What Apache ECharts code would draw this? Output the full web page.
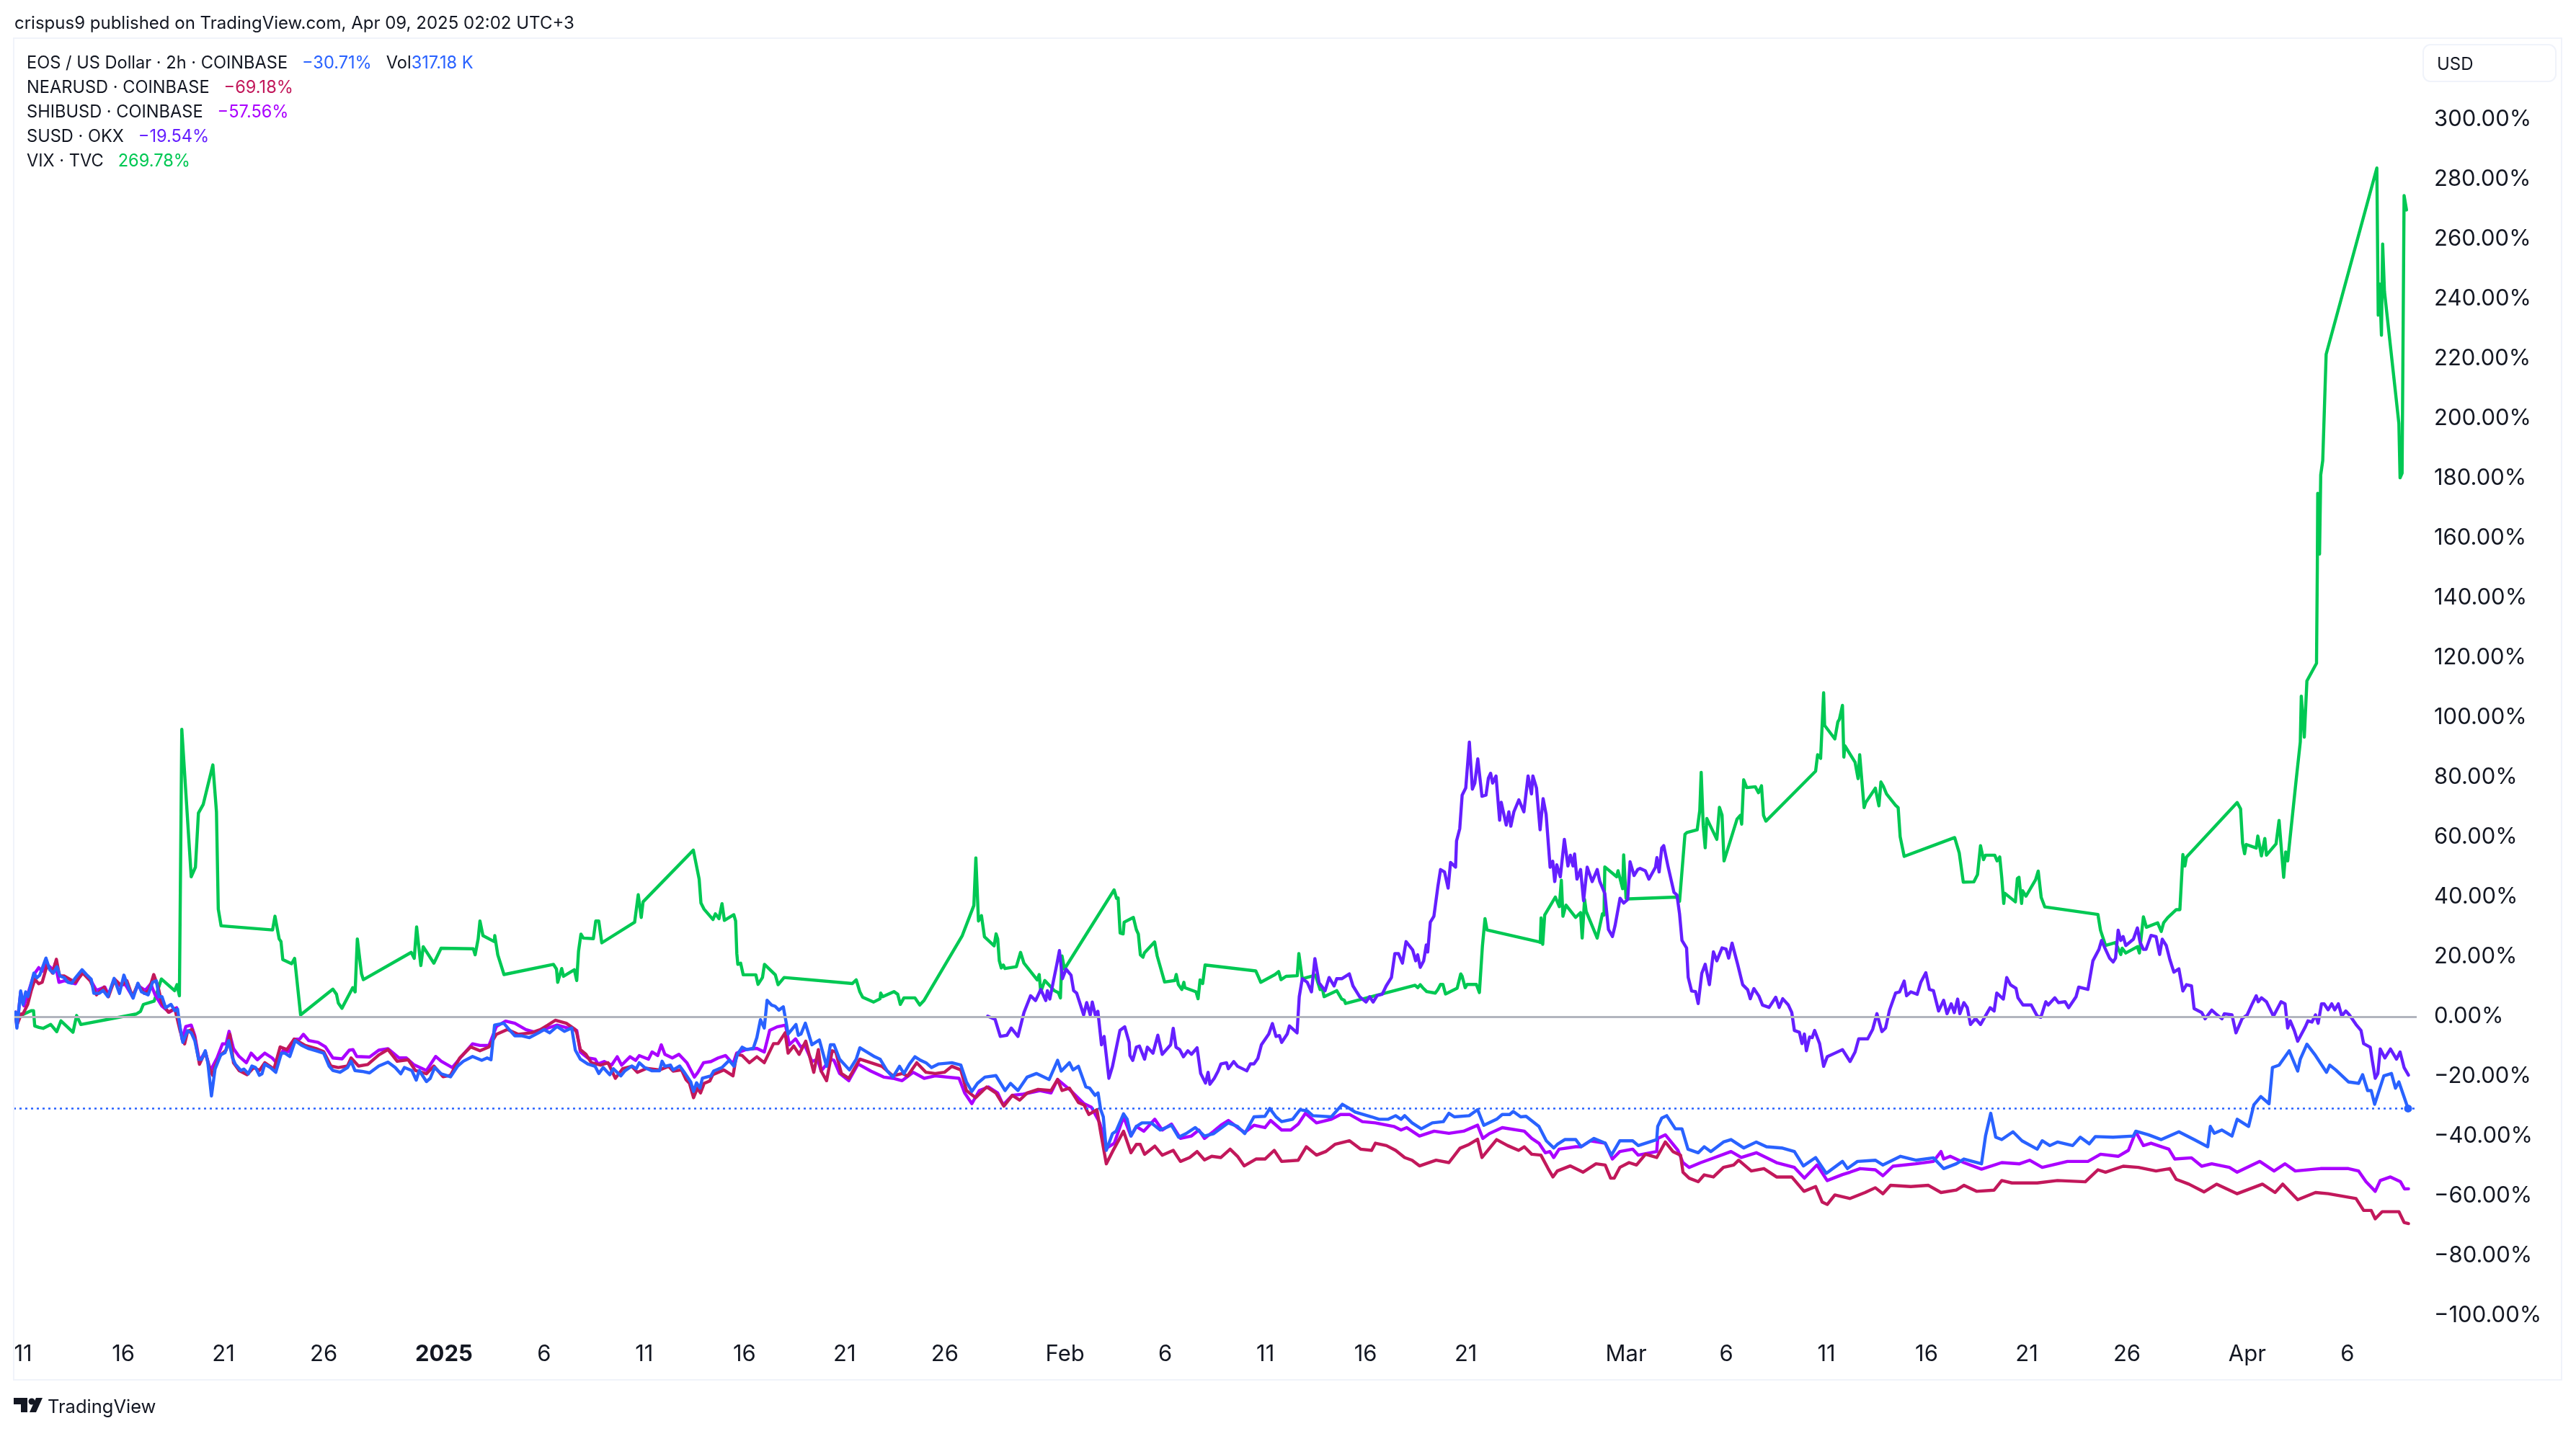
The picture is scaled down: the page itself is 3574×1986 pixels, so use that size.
<!DOCTYPE html>
<html>
<head>
<meta charset="utf-8">
<title>EOS / US Dollar comparison</title>
<script src="https://cdn.jsdelivr.net/npm/echarts@6/dist/echarts.min.js"></script>
<style>html,body{margin:0;padding:0;background:#fff}#chart{width:3574px;height:1986px}</style>
</head>
<body>
<div id="chart"></div>
<script>
// Percent change since the start of the window; x is days after 11 Dec 2024.
const vix = [[-0.11,0.4],[0.4,2],[0.52,2],[0.58,-3.1],[0.79,-3.6],[1,-3.9],[1.38,-2.6],[1.68,-5],[1.89,-1.4],[2.49,-5.2],[2.67,0.4],[2.88,-2.6],[5.65,0.9],[5.86,1.8],[6,4.1],[6.54,5.2],[6.9,12.6],[7.56,8.7],[7.68,10.7],[7.8,7],[7.92,96.1],[8.39,46.8],[8.6,50],[8.75,68.1],[8.99,71],[9.47,84.2],[9.65,68.5],[9.74,36],[9.88,30.4],[12.45,29],[12.57,33.6],[12.78,26],[12.87,25.1],[12.96,19.1],[13.4,17.7],[13.55,19.5],[13.85,0.6],[15.46,9.2],[15.64,7.5],[15.73,4.6],[15.91,2.8],[16.45,9.7],[16.57,8.3],[16.68,26],[16.89,14.3],[16.98,12.4],[19.37,21.5],[19.52,19.5],[19.64,30],[19.85,17.1],[19.97,23.4],[20.5,17.9],[20.86,22.9],[22.47,22.7],[22.56,20.7],[22.71,26],[22.8,32],[22.95,27.1],[23.52,25.1],[23.54,27.1],[23.69,20.7],[24,14.1],[26.47,17.5],[26.62,15.9],[26.68,11.5],[26.88,16.1],[26.97,13.5],[27.51,15.7],[27.63,12.1],[27.72,21.9],[27.84,27.6],[27.96,26.3],[28.46,26.1],[28.58,32],[28.73,32],[28.88,24.7],[30.52,31.6],[30.7,40.8],[30.85,33.2],[30.94,38.4],[33.45,55.7],[33.74,46],[33.83,38],[33.98,36],[34.43,32.5],[34.55,34.4],[34.73,32.8],[34.88,37.8],[35,32.2],[35.47,34.1],[35.56,32],[35.62,21.1],[35.67,17.5],[35.81,17.9],[35.94,14],[36.57,14],[36.68,10.8],[36.9,13.1],[37,17.5],[37.54,14],[37.68,10.7],[37.98,13.1],[41.39,11.1],[41.58,12.3],[41.76,8.3],[41.9,6.5],[42.45,4.9],[42.77,6],[42.8,7.9],[42.9,6.7],[43.46,8.4],[43.65,7.5],[43.78,4.1],[43.96,6.3],[44.51,6.3],[44.75,3.9],[44.97,5.5],[46.87,27.1],[47.45,37.2],[47.55,53.1],[47.68,32],[47.83,33.8],[47.98,26.7],[48.46,23.7],[48.56,27.7],[48.64,26],[48.72,18.7],[48.82,16.3],[48.92,17.3],[49,16.1],[49.57,16.7],[49.78,21.5],[49.95,17.9],[50.61,12.3],[50.71,14.1],[50.79,8.3],[50.99,12.1],[51.47,8.7],[51.67,8],[51.77,6.3],[51.85,20.3],[51.97,15.9],[54.45,42.4],[54.57,39.6],[54.65,39.7],[54.75,28],[54.9,27.7],[54.95,31.6],[55.41,33.2],[55.56,29.1],[55.66,27.6],[55.76,20.7],[55.89,19.9],[55.96,21.3],[56.47,25],[56.6,20.3],[56.97,11.6],[57.48,12.1],[57.55,14.1],[57.66,10.7],[57.83,9.1],[57.93,11.5],[57.98,9.7],[58.54,8.3],[58.64,6],[58.74,12.3],[58.87,11.1],[58.99,17.3],[61.52,15.3],[61.64,13.5],[61.77,11.5],[62.48,14.1],[62.66,15.1],[62.78,12.4],[63.03,13.5],[63.59,13.7],[63.67,21.1],[63.84,12.7],[64.5,13.9],[64.73,9.1],[64.85,9.2],[64.93,6.7],[65.56,8.7],[65.81,5.9],[65.94,5.5],[66,4.4],[69.47,10.5],[69.6,9.7],[69.73,10.7],[69.85,9.7],[70.05,8.4],[70.48,7.9],[70.61,9.1],[70.74,10.8],[70.86,10.8],[70.99,7.6],[71.57,9.5],[71.75,14.3],[71.82,13.5],[71.97,9.7],[72.07,10.8],[72.53,10.8],[72.68,8.1],[72.83,23.5],[72.96,32.8],[73.06,29],[75.61,25.1],[75.72,24.8],[75.76,33],[75.84,24.2],[75.94,34],[76.47,40],[76.67,36.8],[76.77,45.6],[76.85,33.6],[77,37.3],[77.48,33.2],[77.73,34.8],[77.81,26.3],[77.93,39.2],[78.01,35.2],[78.56,26.3],[78.82,34.4],[78.9,34],[78.94,50.1],[79.53,46.8],[79.6,48.8],[79.83,42.8],[79.88,54.1],[80,39.6],[80.13,39.4],[82.54,40],[82.67,38.6],[82.94,61],[83.04,61.6],[83.55,62.5],[83.68,69],[83.75,81.7],[83.85,64],[83.95,56.5],[84.03,66.3],[84.53,59.3],[84.66,70],[84.79,67.4],[84.89,52.1],[85.54,66.1],[85.7,67.3],[85.77,64.4],[85.87,79.2],[86.02,76.6],[86.45,76.9],[86.61,74.9],[86.76,77.2],[86.86,67.3],[86.98,65.4],[89.46,82.1],[89.56,87.6],[89.71,86.4],[89.86,108.3],[89.91,97.4],[90.42,92.9],[90.57,98.6],[90.65,99.5],[90.8,104.1],[90.87,86.8],[90.92,90.6],[91.43,85.1],[91.58,79.6],[91.66,87.6],[91.88,69.9],[91.96,71.6],[92.44,76.4],[92.62,70.5],[92.72,78.5],[92.84,77.1],[93,74.5],[93.45,70.7],[93.58,69.9],[93.68,60.2],[93.88,53.6],[96.4,59.9],[96.63,54.7],[96.83,45],[97.36,45.1],[97.54,47.5],[97.69,57.2],[97.84,52.5],[97.94,54],[98.4,54],[98.52,52.1],[98.65,53.4],[98.75,46.6],[98.85,37.9],[98.9,41.3],[99.43,38.4],[99.53,46.2],[99.61,46.6],[99.74,37.9],[99.79,42.1],[99.96,40.3],[100.44,45.8],[100.57,48.7],[100.72,39.9],[100.9,36.7],[103.55,34.2],[103.68,28.9],[103.93,23.8],[104.43,24.8],[104.69,20.8],[104.76,22.9],[104.94,21.3],[105.52,23.4],[105.62,21.3],[105.82,33.4],[105.97,29.9],[106.53,31.4],[106.71,28.5],[106.83,31.4],[107.03,33.1],[107.46,35.8],[107.64,35.8],[107.79,54.2],[107.89,50.4],[107.97,53.4],[110.5,71.6],[110.67,69.5],[110.77,58],[110.87,54.5],[110.95,57.6],[111.45,56.4],[111.53,60.4],[111.71,53.8],[111.88,59.6],[111.96,54],[112.44,57.8],[112.59,65.6],[112.82,46.6],[112.92,55.1],[113.02,52.1],[113.45,79.6],[113.65,91.9],[113.7,107.2],[113.85,93.5],[113.98,112.3],[114.46,118.2],[114.5,150.4],[114.52,175],[114.61,154.7],[114.67,181.2],[114.77,186],[114.94,221.5],[117.47,283.8],[117.54,234.6],[117.61,245],[117.7,227.9],[117.76,258.4],[117.85,242.6],[118.57,198.4],[118.63,180.2],[118.73,181.8],[118.83,274.6],[118.95,269.78]];

const susd = [[48.14,0.2],[48.51,-0.9],[48.77,-6.6],[49.1,-6.2],[49.32,-3.8],[49.65,-6.6],[49.95,1.4],[50.28,7],[50.53,5.4],[50.79,9.1],[51.04,5.4],[51.12,8.7],[51.24,5.9],[51.42,11.9],[51.59,17.5],[51.72,22.1],[51.87,12.7],[52.05,15.9],[52.3,13.9],[52.43,8.7],[52.58,7.9],[52.93,0.6],[53.08,4.7],[53.26,0.6],[53.36,4.9],[53.51,0.6],[53.64,1.8],[53.82,-9.4],[53.95,-6.6],[54.19,-20.6],[54.37,-16.6],[54.74,-4.6],[54.98,-3.4],[55.2,-8.6],[55.24,-13],[55.38,-14.6],[55.56,-10.2],[55.71,-9.8],[55.97,-14.2],[56.11,-10.2],[56.39,-12.2],[56.63,-6.2],[56.85,-12.6],[57.27,-9.4],[57.4,-3.9],[57.54,-10.2],[57.72,-11],[57.91,-13.4],[58.13,-11.4],[58.31,-12.6],[58.59,-10.4],[58.77,-19],[59.01,-22.2],[59.14,-18.6],[59.23,-22.6],[59.45,-20.6],[59.64,-18.2],[59.78,-15.8],[60.06,-15.4],[60.15,-17.4],[60.42,-15],[60.61,-16.6],[61.07,-18.1],[61.25,-15.8],[61.43,-15.8],[61.62,-14],[61.8,-9.4],[62.17,-5.8],[62.35,-2.3],[62.53,-6.6],[62.7,-6.3],[62.81,-8.6],[63.09,-5.8],[63.2,-3.1],[63.58,-5.4],[63.69,6.7],[63.84,12.7],[64.09,11.5],[64.3,8.3],[64.47,19.4],[64.68,11.3],[64.98,8.7],[65.18,13.1],[65.43,10.3],[65.56,12.7],[65.81,12.7],[66.19,14.3],[66.37,10.3],[66.7,6.7],[67.02,4.9],[67.2,6.7],[67.38,4.9],[67.58,7.1],[67.83,7.5],[68.03,10.3],[68.29,13.1],[68.46,21.1],[68.64,21.1],[68.84,17.9],[69.02,25.1],[69.35,22.3],[69.5,18.7],[69.6,20.7],[69.73,16.5],[69.9,18.7],[70.03,24],[70.1,21.6],[70.23,31.6],[70.41,33.6],[70.61,43.6],[70.74,49.2],[70.94,48.4],[71.12,43],[71.24,51.6],[71.49,50],[71.54,58.8],[71.7,62.9],[71.82,74.1],[72,76.5],[72.18,91.8],[72.33,76.1],[72.45,78.1],[72.6,86.2],[72.81,73.7],[73.01,74.1],[73.13,79.8],[73.24,81.4],[73.34,78.1],[73.51,80.5],[73.69,65.7],[73.77,71.7],[74.02,64.1],[74.15,68.5],[74.25,63.7],[74.4,68.5],[74.65,72.5],[74.9,68.5],[75.11,80.5],[75.28,74.5],[75.35,80.5],[75.53,76.5],[75.71,62.5],[75.86,72.9],[76.01,67.7],[76.21,50],[76.34,52],[76.44,45.2],[76.54,50.8],[76.72,46.8],[76.92,59.3],[77.1,50.4],[77.22,54],[77.35,50.4],[77.43,54.4],[77.55,46],[77.73,49.2],[77.88,38.8],[78.06,50],[78.31,45.2],[78.56,49.2],[78.69,45.2],[78.94,41.2],[79.12,29.2],[79.32,26.8],[79.45,30.4],[79.7,39.6],[79.88,38],[80.08,39.2],[80.2,51.8],[80.4,47.2],[80.58,49.2],[80.7,49.6],[80.96,48.8],[81.14,46],[81.47,50],[81.54,53.2],[81.65,48.4],[81.78,56.4],[81.88,57.2],[82.09,50.4],[82.39,41.6],[82.54,40.7],[82.67,34.4],[82.79,25.5],[83.02,23],[83.1,13.2],[83.27,8.6],[83.47,8.4],[83.6,4.4],[83.78,14.5],[83.95,17.5],[84.16,10.7],[84.36,21.7],[84.53,18.7],[84.79,23],[84.99,22.6],[85.12,19.6],[85.29,24.6],[85.57,17.5],[85.82,10.7],[86.07,9],[86.2,6],[86.38,9.4],[86.63,6.9],[86.81,3.9],[87.14,3.1],[87.47,6.5],[87.64,3.1],[87.82,6],[88.1,3.9],[88.27,1.4],[88.4,-4.6],[88.65,-5.2],[88.78,-9],[88.9,-5.8],[89,-11.4],[89.16,-6.8],[89.29,-7],[89.41,-4.6],[89.66,-9],[89.86,-16.6],[90.04,-13.4],[90.42,-12.2],[90.8,-11],[91.18,-15],[91.43,-11.8],[91.61,-7.4],[92.06,-7.4],[92.31,-4.2],[92.52,1],[92.77,-5],[92.95,-3.8],[93.15,2.2],[93.45,7.9],[93.65,8.3],[93.88,11.9],[94,7],[94.21,8.3],[94.53,7.5],[94.71,11.5],[94.96,14.7],[95.14,9.1],[95.34,8.7],[95.6,1.9],[95.85,5.5],[96.02,1],[96.23,4.3],[96.38,1.4],[96.55,5.9],[96.66,1],[96.86,4.7],[97.03,3],[97.19,-2.6],[97.44,-0.6],[97.69,-2.6],[98.17,3],[98.37,1.9],[98.5,7.9],[98.83,5.9],[99,13.1],[99.18,10.7],[99.46,9.5],[99.56,6.3],[99.81,3.9],[100.22,3.9],[100.52,0.2],[100.7,-0.2],[100.95,5],[101.07,3.9],[101.4,6.3],[101.58,4.7],[101.91,5],[102.09,3],[102.46,6.7],[102.59,9.9],[103.05,9.1],[103.3,18.7],[103.6,22.5],[103.73,25.5],[103.93,22.5],[104.13,19.6],[104.31,18.3],[104.43,19.6],[104.56,28.9],[104.69,25.5],[104.81,26.8],[104.94,23.8],[105.32,25.9],[105.52,29.7],[105.65,25],[105.82,22.5],[105.95,22.5],[106.2,27.2],[106.45,26.8],[106.63,20.8],[106.76,25.9],[106.96,23.8],[107.14,19.1],[107.34,14.9],[107.59,16],[107.79,8.6],[107.97,10.7],[108.22,10.3],[108.35,2.7],[108.73,1.4],[108.9,-0.7],[109.23,2.2],[109.43,1],[109.74,-0.7],[109.86,1],[110.24,0.6],[110.44,-5.4],[110.62,-2.6],[110.75,-0.6],[111,0.6],[111.25,4.3],[111.45,7],[111.55,5],[111.71,6.3],[111.96,5],[112.31,0.2],[112.51,2.7],[112.69,5],[112.89,4.3],[113.02,-3.8],[113.15,-1.4],[113.35,-4.6],[113.52,-8.2],[113.9,-3.4],[114.03,-1.4],[114.23,-1.8],[114.41,0.6],[114.54,-2.2],[114.71,4.3],[114.84,4.3],[115.04,2.3],[115.22,4.3],[115.37,2.3],[115.55,4.3],[115.72,0.2],[115.92,1.9],[116.1,0.6],[116.43,-2.6],[116.68,-4.6],[116.81,-9],[117.14,-10.2],[117.24,-14.6],[117.39,-20.6],[117.52,-19],[117.64,-10.8],[117.87,-13.8],[118.15,-10.8],[118.45,-14.2],[118.63,-11.8],[118.83,-17],[119.05,-19.54]];

const shib = [[-0.38,1.5],[-0.31,-3.3],[-0.12,8.3],[0.04,3.6],[0.32,9.4],[0.54,14.1],[0.78,16.4],[0.96,15.2],[1.14,17.8],[1.51,15.7],[1.6,17.8],[1.79,11.5],[2.06,12],[2.61,11],[2.98,15.2],[3.35,12.5],[3.66,8.8],[4.08,9.9],[4.26,7.3],[4.54,12.5],[4.81,10.4],[5.09,10.9],[5.46,6.7],[5.73,10.4],[6.1,8.8],[6.37,11],[6.59,7.3],[6.92,3.6],[7.29,1.5],[7.66,3],[7.93,-7.5],[8.12,-3.3],[8.39,-2.8],[8.57,-6.4],[8.8,-14.9],[9.09,-11.7],[9.35,-18],[9.68,-13.8],[9.95,-9.1],[10.13,-9.1],[10.28,-4.9],[10.5,-10.7],[10.78,-13.3],[11.14,-15.4],[11.38,-12.2],[11.69,-14.4],[12.06,-12.2],[12.43,-13.8],[12.65,-15.4],[12.98,-11.2],[13.25,-11.7],[13.53,-7.5],[13.8,-7.5],[13.99,-5.9],[14.26,-8],[14.72,-8.6],[15.09,-10.1],[15.46,-13.8],[15.92,-14.1],[16.28,-11.2],[16.46,-11],[16.65,-13.3],[17.29,-13.5],[17.75,-11.2],[18.21,-10.7],[18.76,-13.8],[19.13,-13.8],[19.49,-16],[20.13,-18],[20.59,-13.3],[20.87,-14.9],[21.42,-17],[21.88,-13.3],[22.43,-9.1],[22.8,-9.6],[23.25,-9.6],[23.62,-3.3],[24.08,-1.5],[24.54,-2.2],[25.09,-4.3],[25.64,-5.4],[26.19,-3.8],[26.65,-2.8],[27.47,-4.3],[27.63,-4.6],[27.81,-11.8],[28.18,-13.8],[28.55,-14.2],[28.69,-15.8],[29,-15],[29.37,-16.2],[29.65,-13.4],[29.87,-16.2],[30.29,-13.4],[30.57,-14.6],[30.75,-13],[31.21,-14.2],[31.39,-11.8],[31.67,-13],[31.85,-9.4],[32.03,-12.6],[32.4,-13.8],[32.73,-12.6],[33.13,-15.4],[33.5,-20.2],[33.68,-18.6],[33.96,-15.4],[34.33,-15],[34.69,-13.8],[35.06,-13],[35.43,-15.8],[35.61,-12.2],[36.07,-11],[36.62,-10.6],[36.99,-11.8],[37.26,-4.6],[37.63,-3.4],[38.05,-2.8],[38.24,-9.4],[38.55,-7.4],[38.82,-10.2],[39,-9.4],[39.37,-15],[39.65,-14.2],[39.83,-18.2],[40.29,-14.2],[40.47,-14.6],[40.75,-19],[41.21,-21.4],[41.67,-15.8],[42.31,-18.2],[42.95,-20.2],[43.41,-20.6],[43.87,-21.4],[44.42,-18.6],[44.97,-20.6],[45.52,-19.8],[46.71,-20.6],[46.99,-25.5],[47.35,-29.1],[47.72,-24.7],[48.18,-23.5],[48.64,-25.5],[48.91,-29.5],[49.37,-26.3],[49.92,-25.9],[50.75,-24.7],[51.3,-25.5],[51.63,-21],[52.22,-24.3],[52.95,-29.1],[53.32,-30.3],[53.73,-35.5],[54.09,-43.9],[54.46,-42.3],[54.92,-33.5],[55.29,-39.9],[55.56,-36.7],[55.93,-38.3],[56.48,-34.3],[56.85,-37.9],[57.31,-35.9],[57.76,-40.7],[58.31,-39.9],[58.68,-37.9],[58.96,-40.7],[59.42,-38.3],[59.78,-36.3],[60.15,-34.7],[60.7,-37.5],[60.97,-38.7],[61.43,-36.3],[61.98,-37.1],[62.26,-34.7],[62.81,-37.9],[63.27,-37.9],[63.64,-35.9],[64,-32.3],[64.55,-35.5],[65.29,-34.3],[65.75,-32.7],[66.2,-32.7],[66.84,-35.1],[67.49,-35.5],[68.41,-36.7],[68.77,-37.9],[69.05,-37.1],[69.69,-39.9],[70.42,-38.3],[71.16,-39],[71.89,-38.3],[72.59,-36.3],[72.85,-40.7],[73.18,-39.1],[73.82,-37.1],[74.92,-38.3],[75.29,-40.7],[75.65,-42.3],[75.97,-45.5],[76.2,-45.1],[76.39,-47.1],[76.66,-44.3],[77.49,-43.5],[77.76,-43.5],[78.22,-41.5],[78.96,-42.3],[79.32,-47.6],[79.69,-45.1],[80.33,-44.3],[80.61,-46.3],[81.53,-45.1],[81.58,-40.7],[81.96,-39.5],[82.59,-44.7],[82.84,-48.8],[83.15,-50.4],[83.73,-48.8],[84.23,-47.6],[85.24,-45.1],[85.75,-47.1],[86.5,-45.5],[87.51,-48.8],[88.4,-50.4],[88.9,-54],[89.53,-49.6],[90.04,-54.8],[90.8,-52.8],[91.18,-52],[91.68,-50.8],[92.44,-51.2],[92.82,-53.2],[93.32,-50],[94.46,-49.2],[95.34,-48.4],[95.72,-45.1],[95.85,-47.6],[96.18,-46.7],[96.86,-48.8],[97.74,-51],[98.75,-48.8],[99.64,-49.2],[100.14,-48],[100.77,-50.4],[102.03,-48.4],[103.05,-48.4],[103.68,-46],[104.56,-46.7],[105.07,-44.7],[105.44,-38.5],[105.82,-43.1],[106.2,-42.3],[107.09,-44.3],[107.39,-47.6],[108.22,-47.2],[108.73,-50],[109.23,-49.2],[110.11,-50.4],[110.5,-52],[111.63,-48.4],[112.34,-51.6],[112.89,-49.2],[113.4,-51.6],[114.66,-50.8],[116.05,-50.8],[116.56,-51.6],[116.93,-55.2],[117.39,-58.4],[117.64,-54.8],[118.15,-53.6],[118.65,-55.2],[118.85,-57.6],[119.05,-57.56]];

const near = [[-0.38,1.5],[-0.31,-2.8],[-0.09,0.9],[-0.01,0.9],[0.23,4.1],[0.41,8.8],[0.59,12.5],[0.78,11],[0.95,11.5],[1.2,17.3],[1.47,14.6],[1.66,19.2],[1.82,13.6],[2.06,13.6],[2.34,12.5],[2.61,11.5],[2.98,14.6],[3.35,12],[3.66,7.3],[4.04,9.9],[4.26,6.7],[4.57,12.5],[4.9,10.4],[5.18,12],[5.46,6.7],[5.73,11],[6.04,7.8],[6.28,8.8],[6.52,14.1],[6.74,9.9],[6.92,4.6],[7.25,1.5],[7.57,2.7],[7.84,-4.9],[8.06,-9.1],[8.21,-4.9],[8.43,-4.3],[8.57,-7],[8.8,-15.9],[9.09,-11.7],[9.31,-17.5],[9.46,-19.6],[9.58,-16.5],[9.86,-12.8],[10.13,-11.2],[10.32,-5.9],[10.5,-15.4],[10.78,-18],[11.18,-19.4],[11.51,-17],[11.79,-18],[12.06,-15.4],[12.52,-17.5],[12.83,-10.1],[13.16,-11],[13.53,-7.5],[14.08,-9.6],[14.63,-10.7],[15,-11.7],[15.36,-16.5],[15.73,-17],[16.19,-16.5],[16.37,-13.8],[16.74,-16.5],[17.2,-16],[17.75,-12.8],[18.21,-11],[18.67,-14.9],[19.22,-14.4],[19.58,-18],[20.13,-19.1],[20.5,-16.5],[20.96,-20.1],[21.33,-19.6],[21.79,-13.8],[22.34,-10.1],[22.8,-11.4],[23.25,-10.1],[23.62,-5.9],[24.17,-4.3],[24.72,-5.9],[25.36,-5.4],[25.82,-4.3],[26.19,-2.8],[26.56,-1.2],[27.11,-2.2],[27.56,-4.3],[27.63,-5.4],[27.81,-11],[28.09,-12.6],[28.36,-15.4],[28.82,-16.2],[29.19,-15.4],[29.56,-20.6],[29.92,-17.4],[30.38,-16.6],[30.66,-18.6],[31.12,-17.3],[31.76,-17.8],[32.22,-16.6],[32.44,-18.2],[32.86,-17.8],[33.08,-21],[33.26,-22.3],[33.46,-27.1],[33.65,-23.9],[33.81,-25.5],[33.99,-22.3],[34.27,-21.5],[34.42,-19.4],[34.97,-17.8],[35.43,-19.8],[35.61,-12.6],[35.89,-13],[36.25,-15.4],[36.62,-13.4],[36.99,-15.4],[37.45,-9],[37.68,-9],[38.03,-5.4],[38.18,-12.2],[38.46,-9.8],[38.73,-12.6],[39.06,-8.2],[39.46,-18.6],[39.69,-11],[39.83,-18.2],[40.1,-21.4],[40.38,-11.4],[40.56,-11.8],[40.84,-19],[41.21,-20.6],[41.76,-14.2],[42.31,-15.4],[42.86,-16.6],[43.41,-19.8],[43.87,-19],[44.14,-19.8],[44.6,-15.4],[45.06,-18.6],[45.52,-19],[45.98,-18.6],[46.35,-16.6],[46.8,-17.8],[47.08,-24.7],[47.54,-27.1],[48.09,-23.5],[48.55,-25.5],[48.95,-29.9],[49.37,-26.3],[49.74,-27.9],[50.11,-25.5],[50.66,-24.3],[51.3,-24.7],[51.63,-21],[51.85,-24.7],[52.22,-23.9],[52.67,-28.7],[52.95,-29.5],[53.19,-32.7],[53.59,-31.1],[53.78,-38.7],[54.06,-49.2],[54.37,-45.1],[54.92,-38.3],[55.29,-45.5],[55.56,-42.7],[55.75,-42.7],[55.97,-46],[56.48,-43.3],[56.85,-46.3],[57.4,-44.7],[57.76,-48.4],[58.22,-47.1],[58.59,-45.1],[58.96,-47.9],[59.32,-46.7],[59.78,-47.1],[60.24,-44.3],[60.61,-46.7],[60.94,-49.9],[61.53,-47.6],[61.98,-47.6],[62.44,-44.7],[62.81,-48.4],[63.64,-48],[64.04,-43.5],[64.55,-46.3],[65.01,-45.1],[65.47,-42.7],[66.2,-41.5],[66.75,-44.3],[67.3,-44.7],[67.49,-42.3],[68.04,-43.1],[68.5,-44.7],[68.95,-47.1],[69.32,-48],[69.69,-49.9],[70.52,-48],[71.16,-48.8],[71.71,-44],[72.17,-42.7],[72.59,-41],[72.81,-47.1],[73.54,-41.1],[74.09,-43.1],[74.64,-44.7],[74.92,-43.5],[75.29,-46],[75.75,-46.3],[76.11,-50.8],[76.35,-53.6],[76.57,-51.6],[77.21,-49.9],[77.85,-52],[78.5,-49.2],[78.96,-49.6],[79.23,-54],[79.41,-54],[79.69,-50.4],[80.15,-48.8],[80.52,-49.6],[80.97,-46],[81.53,-47.1],[81.96,-41.9],[82.34,-45.1],[82.72,-46.3],[82.84,-52],[83.15,-54],[83.6,-55.2],[83.9,-52.9],[84.36,-53.6],[84.86,-50.4],[85.37,-49.6],[85.62,-48],[86.25,-51.6],[86.88,-50.8],[87.51,-53.6],[88.27,-53.6],[88.88,-58.4],[89.46,-56.8],[89.79,-62],[90.04,-62.8],[90.42,-59.6],[91.18,-60.8],[91.93,-58.8],[92.44,-57.2],[92.82,-59.2],[93.2,-56.4],[94.21,-56.8],[95.09,-56.4],[95.72,-58.8],[96.48,-58],[96.86,-56.4],[97.49,-58.4],[98.37,-58],[98.75,-54.8],[99.26,-55.6],[100.52,-55.6],[101.53,-54.8],[102.92,-55.2],[103.55,-51.2],[103.93,-52],[104.81,-50],[105.57,-50.4],[106.45,-51.6],[107.14,-50.8],[107.46,-54.4],[108.09,-56],[108.85,-58.6],[109.48,-56],[110.5,-59.2],[111.76,-56],[112.39,-58.8],[112.77,-56],[113.52,-61.2],[114.41,-58.8],[115.04,-59.2],[116.43,-60.8],[116.81,-64.8],[117.19,-64.8],[117.39,-67.6],[117.74,-65.2],[118.57,-65.2],[118.83,-68.8],[119.05,-69.18]];

const eos = [[-0.38,1.5],[-0.31,-3.8],[-0.12,8.6],[-0.01,4.1],[0.13,8.3],[0.24,6.7],[0.54,14.6],[0.68,13],[0.83,13.9],[1.14,19.6],[1.33,15.7],[1.51,14.6],[1.69,16.7],[1.84,13.6],[2.06,13],[2.24,11.5],[2.43,11.2],[2.61,13],[2.94,15.7],[3.16,14.1],[3.4,12.5],[3.53,7.8],[3.8,7.8],[3.99,8.8],[4.23,6.7],[4.54,12.8],[4.81,7.8],[5.03,13.9],[5.27,9.4],[5.49,6.2],[5.73,11.2],[5.91,8.3],[6.24,7.3],[6.46,11.5],[6.65,12],[6.78,6.7],[6.93,6.7],[7.11,3],[7.38,4.1],[7.57,2],[7.71,2.5],[7.84,-3.8],[7.97,-8.6],[8.21,-4.7],[8.39,-5.4],[8.57,-8],[8.76,-14.3],[8.9,-14.3],[9.09,-11.4],[9.22,-15.4],[9.4,-26.5],[9.58,-17.5],[9.86,-12.8],[10.08,-12],[10.26,-8],[10.45,-13.8],[10.59,-15.9],[10.87,-18],[11.02,-17.5],[11.24,-19.1],[11.42,-16.5],[11.6,-17],[11.79,-19.6],[11.92,-19.1],[12.06,-15.9],[12.34,-17],[12.61,-18.6],[12.89,-12.2],[13.07,-12.2],[13.31,-13.3],[13.58,-8],[13.9,-9.6],[14.26,-10.7],[14.63,-11.4],[15,-12.2],[15.27,-16.5],[15.46,-18],[15.82,-18.6],[16.19,-17],[16.37,-14.9],[16.56,-18],[16.92,-18.3],[17.29,-18.8],[17.75,-16.5],[18.21,-15.2],[18.57,-17],[18.85,-19.1],[19.03,-17],[19.4,-18],[19.62,-21.2],[19.77,-18],[20.13,-21.7],[20.32,-20.6],[20.54,-17],[20.87,-19.1],[21.33,-20.1],[21.69,-16.5],[21.97,-14.9],[22.43,-13.3],[22.89,-14.6],[23.16,-13.8],[23.35,-14.4],[23.53,-2.8],[23.99,-2.2],[24.26,-4.3],[24.54,-6.4],[24.9,-6.4],[25.27,-7],[25.73,-5.4],[26,-4.3],[26.28,-5.4],[26.65,-3.3],[27.02,-4.9],[27.38,-3.8],[27.56,-11.2],[27.81,-14.2],[28.18,-15.8],[28.55,-16.6],[28.73,-19],[28.95,-17],[29.28,-19.4],[29.46,-17.4],[29.83,-19.8],[30.02,-18.2],[30.38,-16.5],[30.6,-17.4],[30.75,-15.4],[31.02,-17],[31.39,-18.1],[31.76,-18.1],[31.89,-14.9],[32.03,-16.6],[32.31,-16.2],[32.44,-17.8],[32.77,-16.5],[33.04,-19],[33.32,-21.8],[33.46,-25],[33.61,-22.1],[33.78,-23.9],[33.9,-20.6],[34.33,-19.8],[34.46,-18.2],[34.88,-17],[35.24,-14.6],[35.48,-16.6],[35.65,-12.6],[35.89,-10.2],[36.11,-11],[36.44,-10.6],[36.62,-7],[36.8,-1],[36.99,-3.8],[37.13,5.5],[37.35,3.9],[37.53,3.5],[37.72,2.2],[37.94,3.3],[38.09,-2.2],[38.18,-5.8],[38.57,-2.6],[38.69,-6.2],[38.82,-5.8],[39.04,-2.2],[39.37,-9.4],[39.55,-8.6],[39.74,-7.8],[40.1,-16.6],[40.29,-9.4],[40.47,-9.4],[40.75,-14.2],[41.24,-17.8],[41.58,-14.2],[41.76,-10.4],[42.31,-12.6],[42.5,-13.4],[42.77,-14.2],[43.13,-18.2],[43.41,-20.2],[43.74,-16.6],[43.96,-19],[44.24,-15.8],[44.51,-13.4],[44.79,-14.6],[45.06,-15.4],[45.34,-17],[45.7,-15.8],[46.35,-15.4],[46.8,-16.2],[47.08,-21.8],[47.35,-25],[47.63,-22.3],[48,-20.2],[48.55,-19.7],[49.01,-24.7],[49.28,-22.3],[49.65,-24.7],[50.11,-20.2],[50.57,-19],[51.21,-21],[51.63,-14.6],[51.81,-18.2],[52.22,-15.4],[52.4,-17.8],[52.67,-16.6],[53.04,-23.5],[53.23,-23.9],[53.5,-26.3],[53.65,-25.5],[53.78,-31.1],[53.91,-33.5],[54.06,-44.7],[54.37,-39.1],[54.55,-38.3],[54.92,-32.5],[55.1,-34.3],[55.29,-39.9],[55.56,-36.7],[55.84,-35.5],[56.3,-35.5],[56.75,-37.9],[57.31,-36.3],[57.67,-40.3],[58.04,-39.1],[58.5,-37.1],[58.96,-39.9],[59.42,-39.1],[60.15,-35.5],[60.61,-36.7],[60.97,-39.1],[61.43,-33.5],[61.98,-33.3],[62.22,-30.7],[62.53,-33.5],[62.81,-35.1],[63.36,-34.3],[63.73,-31.1],[64.09,-31.5],[64.37,-33.1],[65.29,-33.5],[65.84,-29.3],[66.2,-30.7],[66.48,-31.9],[67.3,-33.5],[67.67,-34.3],[68.13,-34.3],[68.5,-33.1],[68.77,-34.3],[68.95,-33.1],[69.32,-35.5],[69.78,-37.5],[70.33,-35.5],[70.88,-35.1],[71.16,-32.3],[71.43,-33.5],[72.17,-33.1],[72.59,-31.1],[72.9,-36.3],[73.54,-34.3],[73.82,-32.7],[74.19,-32.7],[74.37,-31.7],[74.74,-33.5],[75.01,-33.3],[75.65,-36.7],[76.02,-41.5],[76.39,-43.9],[76.57,-42.7],[76.94,-41.1],[77.49,-41.1],[77.76,-43.5],[78.4,-40.7],[78.96,-42.3],[79.27,-46.3],[79.69,-41.5],[80.33,-41.5],[80.61,-43.1],[81.53,-41.1],[81.58,-36.7],[81.78,-33.9],[82.03,-33.1],[82.46,-37.5],[82.79,-37.5],[83.09,-44.3],[83.6,-45.5],[83.9,-43.5],[84.23,-45.1],[84.86,-41.9],[85.24,-41.1],[85.87,-43.9],[86.5,-41.9],[87.01,-43.5],[87.77,-43.9],[88.4,-45.1],[88.85,-49.9],[89.46,-47.1],[89.99,-52.4],[90.8,-48.4],[91.05,-50.8],[91.55,-48.4],[92.44,-48],[92.82,-49.6],[93.7,-46.7],[94.46,-48],[95.34,-47.2],[95.85,-50.8],[96.48,-49.2],[96.86,-47.6],[97.74,-49.2],[97.94,-39.9],[98.2,-32.3],[98.45,-40.3],[98.75,-41.1],[99.31,-38.5],[99.76,-41.5],[100.52,-44.3],[100.77,-41.5],[101.15,-43.1],[101.53,-41.9],[102.29,-43.1],[102.67,-40.3],[103.12,-42.5],[103.42,-40.1],[104.31,-40.3],[105.32,-39.9],[105.44,-38.3],[106.07,-39.5],[106.71,-41.1],[107.59,-38.5],[108.35,-41.1],[109.03,-43.5],[109.16,-36.7],[109.36,-39],[109.74,-37.9],[110.24,-39.9],[110.5,-34.3],[111.07,-36.7],[111.33,-29.5],[111.68,-26.7],[112.09,-29.1],[112.26,-17],[112.59,-16.2],[113.1,-11.4],[113.52,-18.2],[113.65,-14.2],[113.98,-9.2],[114.41,-13],[114.96,-18.6],[115.12,-16.2],[115.42,-17.8],[116.05,-21.8],[116.56,-22.3],[116.76,-19.4],[117.01,-24.7],[117.19,-24.7],[117.36,-29.3],[117.82,-19.8],[118.2,-19],[118.4,-23.9],[118.57,-21.8],[119.03,-30.71]];

// Time axis: tick positions in days and the labels printed under them.
const dayTicks = [0,5,10,15,21,26,31,36,41,46,52,57,62,67,72,80,85,90,95,100,105,111,116];
const dayLabels = ['11','16','21','26','2025','6','11','16','21','26','Feb','6','11','16','21','Mar','6','11','16','21','26','Apr','6'];
const axisDays = [-0.47, 119.46];

// Price scale, in percent.
const pctRange = [-100, 300];
const pctStep = 20;

// Header rows: symbol description and closing change.
const rowNames = ['EOS / US Dollar · 2h · COINBASE','NEARUSD · COINBASE','SHIBUSD · COINBASE','SUSD · OKX','VIX · TVC'];
const rowValues = ['−30.71%','−69.18%','−57.56%','−19.54%','269.78%'];
const rowColors = ['#2962FF','#C2185B','#AA00FF','#651FFF','#00C853'];
const volumeText = '317.18 K';
const lastEos = -30.71;

const ink = '#131722';
const paneEdge = '#F0F3FA';
const uiFont = 'Inter, "Noto Sans", sans-serif';

function lineSeries(name, data, color, extra) {
  return Object.assign({
    name, type: 'line', data, showSymbol: false, symbol: 'none', clip: true, silent: true,
    lineStyle: { color, width: 4.4, join: 'round', cap: 'round' }
  }, extra || {});
}

const headerRows = rowNames.map((name, i) => ({
  type: 'text', left: 37, top: 76 + i * 34, z: 20,
  style: {
    text: '{n|' + name + '}   {v|' + rowValues[i] + '}' + (i === 0 ? '   {n|Vol}{v|' + volumeText + '}' : ''),
    font: '23.6px ' + uiFont,
    rich: {
      n: { fill: ink, font: '23.6px ' + uiFont },
      v: { fill: rowColors[i], font: '23.6px ' + uiFont }
    }
  }
}));

const chart = echarts.init(document.getElementById('chart'), null, { renderer: 'canvas' });
chart.setOption({
  animation: false,
  backgroundColor: '#ffffff',
  grid: { left: 19, right: 221, top: 166, bottom: 160, containLabel: false },
  xAxis: {
    type: 'value', min: axisDays[0], max: axisDays[1],
    splitLine: { show: false }, axisLine: { show: false }, axisTick: { show: false },
    axisLabel: {
      customValues: dayTicks,
      margin: 38,
      color: ink,
      fontFamily: uiFont,
      fontSize: 31,
      formatter: v => {
        const t = dayLabels[dayTicks.indexOf(v)];
        return t === '2025' ? '{b|2025}' : t;
      },
      rich: { b: { fontWeight: 700, fontSize: 31, fontFamily: uiFont, color: ink } }
    }
  },
  yAxis: {
    type: 'value', position: 'right', min: pctRange[0], max: pctRange[1], interval: pctStep,
    splitLine: { show: false }, axisLine: { show: false }, axisTick: { show: false },
    axisLabel: {
      margin: 24, color: ink, fontFamily: uiFont, fontSize: 31, padding: [4, 0, 0, 0],
      formatter: v => (v < 0 ? '−' : '') + Math.abs(v).toFixed(2) + '%'
    }
  },
  series: [
    lineSeries('VIX', vix, rowColors[4], {
      markLine: {
        silent: true, symbol: 'none', animation: false, label: { show: false },
        lineStyle: { color: '#B2B5BE', width: 3, type: 'solid' },
        data: [{ yAxis: 0 }]
      }
    }),
    lineSeries('SUSD', susd, rowColors[3]),
    lineSeries('SHIB', shib, rowColors[2]),
    lineSeries('NEAR', near, rowColors[1]),
    lineSeries('EOS', eos, rowColors[0], {
      markLine: {
        silent: true, symbol: 'none', animation: false, label: { show: false },
        lineStyle: { color: rowColors[0], width: 2.5, type: [3, 5] },
        data: [{ yAxis: lastEos }]
      },
      markPoint: {
        silent: true, symbol: 'circle', symbolSize: 11, animation: false, label: { show: false },
        itemStyle: { color: rowColors[0] },
        data: [{ coord: eos[eos.length - 1] }]
      }
    })
  ],
  graphic: [
    { type: 'rect', z: 10, shape: { x: 0, y: 1830, width: 19, height: 80 }, style: { fill: '#fff' } },
    { type: 'rect', z: 11, shape: { x: 19, y: 53, width: 3535, height: 1862 },
      style: { fill: 'transparent', stroke: paneEdge, lineWidth: 2 } },
    { type: 'rect', z: 12, shape: { x: 3362, y: 62, width: 184, height: 51, r: 10 },
      style: { fill: '#fff', stroke: paneEdge, lineWidth: 2 } },
    { type: 'text', z: 13, left: 3381, top: 78, style: { text: 'USD', fill: ink, font: '24px ' + uiFont } },
    { type: 'text', z: 13, left: 20, top: 21, style: { text: 'crispus9 published on TradingView.com, Apr 09, 2025 02:02 UTC+3', fill: ink, font: '24px ' + uiFont } },
    { type: 'text', z: 13, left: 66, top: 1940, style: { text: 'TradingView', fill: ink, font: '25.5px ' + uiFont } },
    { type: 'polygon', z: 13, shape: { points: [[19, 1940], [38, 1940], [38, 1960], [29, 1960], [29, 1949], [19, 1949]] }, style: { fill: ink } },
    { type: 'circle', z: 13, shape: { cx: 44, cy: 1945, r: 4.5 }, style: { fill: ink } },
    { type: 'polygon', z: 13, shape: { points: [[50, 1940], [59, 1940], [50, 1960], [41, 1960]] }, style: { fill: ink } }
  ].concat(headerRows)
});
</script>
</body>
</html>
